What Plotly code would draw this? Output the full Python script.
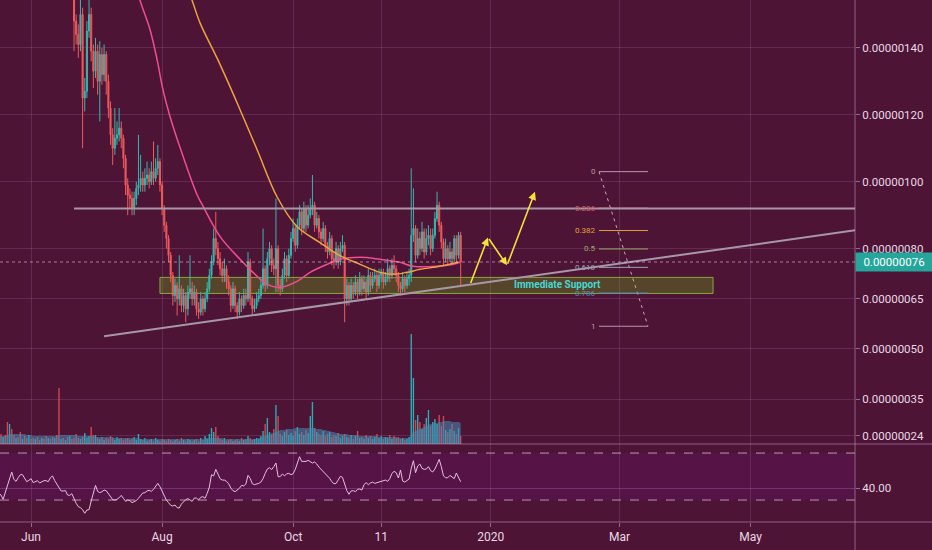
import pandas as pd
import plotly.graph_objects as go

START = "2019-05-17"

# ---- daily candles (price in units of 1e-8) ----
close = [262, 255, 258, 248, 240, 245, 236, 230, 238, 226, 220, 224, 215, 210, 218, 205, 200, 206, 198, 192,
         196, 188, 184, 190, 180, 176, 182, 172, 168, 175, 166, 170, 162, 165, 160,
         148, 144, 141, 150, 125, 127, 145, 150, 139, 133,
         139, 130, 138, 132, 138, 130, 122, 114, 110, 113,
         114, 116, 113, 107, 99, 96, 95, 92, 95, 98,
         99, 101, 99, 101, 102, 100, 103, 101, 104, 106,
         99, 92, 87, 83, 78, 72, 66, 69, 65, 68,
         63, 66, 62, 67, 68, 65, 67, 62, 61, 65,
         62, 65, 68, 72, 76, 83, 80, 77, 74, 72,
         74, 70, 68, 63, 68, 63, 61, 65, 63, 66,
         65, 76, 65, 62, 63, 65, 66, 69, 74, 69,
         77, 80, 75, 74, 80, 69, 68, 72, 77, 72,
         78, 83, 86, 81, 87, 91, 86, 92, 87, 90,
         92, 93, 87, 89, 85, 83, 86, 81, 79, 83,
         77, 76, 80, 76, 80, 81, 65, 69, 65, 69,
         67, 70, 67, 71, 68, 70, 67, 72, 69, 71,
         72, 69, 72, 73, 70, 71, 74, 72, 75, 74,
         72, 69, 68, 71, 69, 71, 72, 84, 86, 78,
         83, 80, 85, 79, 83, 84, 80, 84, 89, 93,
         87, 82, 77, 80, 77, 79, 77, 83, 78, 84, 76]

open_ = [268, 262, 255, 258, 248, 240, 245, 236, 230, 238, 226, 220, 224, 215, 210, 218, 205, 200, 206, 198,
         192, 196, 188, 184, 190, 180, 176, 182, 172, 168, 175, 166, 170, 162, 165,
         160, 148, 144, 141, 150, 125, 127, 145, 150, 139,
         133, 139, 130, 138, 132, 138, 130, 122, 114, 110,
         113, 114, 116, 113, 107, 99, 96, 95, 92, 95,
         98, 99, 101, 99, 101, 102, 100, 103, 101, 104,
         106, 99, 92, 87, 83, 78, 72, 66, 69, 65,
         68, 63, 66, 62, 67, 68, 65, 67, 62, 61,
         65, 62, 65, 68, 72, 76, 83, 80, 77, 74,
         72, 74, 70, 68, 63, 68, 63, 61, 65, 63,
         66, 65, 76, 65, 62, 63, 65, 66, 69, 74,
         69, 77, 80, 75, 74, 80, 69, 68, 72, 77,
         72, 78, 83, 86, 81, 87, 91, 86, 92, 87,
         90, 92, 93, 87, 89, 85, 83, 86, 81, 79,
         83, 77, 76, 80, 76, 80, 81, 65, 69, 65,
         69, 67, 70, 67, 71, 68, 70, 67, 72, 69,
         71, 72, 69, 72, 73, 70, 71, 74, 72, 75,
         74, 72, 69, 68, 71, 69, 71, 72, 84, 86,
         78, 83, 80, 85, 79, 83, 84, 80, 84, 89,
         93, 87, 82, 77, 80, 77, 79, 77, 83, 78, 84]

high = [272, 266, 263, 260, 251, 249, 247, 239, 242, 240, 229, 228, 226, 218, 222, 220, 208, 210, 208, 201,
        200, 198, 191, 194, 192, 183, 186, 184, 175, 179, 177, 174, 172, 168, 167,
        163, 150, 147, 156, 152, 131, 148, 158, 152, 141,
        143, 141, 142, 140, 141, 139, 132, 124, 116, 122,
        118, 122, 118, 114, 108, 101, 98, 97, 97, 100,
        114, 108, 103, 104, 106, 104, 106, 112, 107, 111,
        107, 100, 93, 88, 84, 79, 73, 71, 70, 78,
        69, 68, 67, 69, 78, 70, 69, 68, 64, 67,
        66, 67, 70, 74, 78, 86, 91, 82, 79, 76,
        77, 75, 72, 69, 70, 69, 64, 67, 66, 68,
        68, 79, 77, 66, 65, 67, 68, 71, 86, 75,
        79, 82, 81, 77, 95, 81, 71, 74, 79, 78,
        80, 85, 89, 87, 89, 93, 92, 94, 93, 93,
        95, 102, 94, 91, 90, 86, 88, 87, 82, 85,
        84, 79, 82, 81, 82, 84, 82, 71, 70, 71,
        70, 72, 71, 73, 72, 72, 71, 74, 73, 73,
        74, 73, 74, 74, 74, 73, 77, 75, 77, 78,
        75, 73, 70, 73, 72, 73, 74, 104, 98, 87,
        86, 85, 88, 86, 86, 87, 86, 86, 91, 97,
        94, 88, 83, 83, 81, 82, 80, 84, 84, 85, 85]

low = [258, 251, 252, 244, 236, 237, 232, 226, 228, 222, 216, 217, 211, 206, 207, 201, 196, 197, 194, 188,
       189, 185, 180, 181, 177, 172, 173, 169, 165, 166, 163, 163, 159, 159, 157,
       139, 141, 137, 139, 110, 121, 125, 143, 136, 128,
       131, 126, 118, 129, 130, 126, 119, 111, 105, 108,
       111, 112, 110, 104, 96, 90, 92, 90, 90, 93,
       96, 97, 97, 97, 99, 98, 99, 99, 100, 102,
       97, 90, 85, 80, 76, 70, 63, 64, 60, 63,
       61, 61, 58, 60, 65, 63, 63, 60, 59, 60,
       60, 61, 64, 67, 71, 75, 78, 75, 72, 70,
       70, 68, 66, 61, 62, 61, 59, 60, 61, 62,
       63, 64, 63, 60, 61, 62, 64, 65, 68, 67,
       68, 75, 73, 72, 67, 67, 66, 67, 71, 70,
       71, 77, 82, 79, 80, 86, 84, 85, 85, 86,
       89, 90, 85, 86, 83, 81, 82, 79, 77, 78,
       75, 74, 75, 74, 75, 79, 58, 63, 63, 64,
       65, 66, 65, 66, 66, 67, 65, 66, 67, 68,
       70, 67, 68, 70, 68, 69, 70, 70, 71, 72,
       70, 67, 66, 67, 67, 68, 69, 70, 82, 76,
       77, 78, 79, 77, 78, 81, 78, 79, 83, 88,
       85, 80, 75, 76, 75, 76, 75, 76, 76, 77, 69]

volume = [8, 10, 7, 9, 22, 20, 15, 9, 6, 7,
          12, 5, 8, 6, 9, 5, 6, 5, 7, 4,
          6, 5, 8, 6, 5, 7, 6, 9, 56, 5,
          6, 4, 7, 8, 5, 6, 10, 6, 5, 7,
          11, 6, 8, 17, 9, 9, 6, 5, 7, 4,
          6, 5, 8, 6, 4, 7, 5, 6, 4, 5,
          6, 4, 5, 7, 4, 10, 5, 4, 6, 3,
          4, 5, 3, 6, 4, 3, 5, 4, 3, 5,
          4, 3, 4, 5, 3, 6, 4, 3, 5, 4,
          3, 4, 5, 3, 6, 4, 8, 5, 10, 16,
          12, 17, 8, 5, 4, 6, 3, 4, 5, 3,
          4, 5, 3, 6, 4, 5, 8, 6, 4, 5,
          6, 5, 8, 13, 20, 26, 12, 9, 15, 39,
          28, 10, 8, 12, 14, 9, 11, 8, 13, 17,
          10, 12, 9, 14, 11, 28, 42, 16, 12, 10,
          9, 13, 8, 10, 12, 7, 9, 8, 11, 6,
          8, 10, 7, 6, 9, 5, 8, 13, 6, 7,
          5, 9, 6, 8, 5, 7, 10, 6, 8, 5,
          7, 6, 9, 5, 8, 6, 7, 5, 6, 4,
          5, 7, 110, 66, 24, 29, 22, 15, 20, 26,
          34, 18, 22, 25, 20, 29, 18, 28, 14, 12,
          15, 20, 13, 10, 16, 8]

volume_ma = [8, 8, 8, 8, 9, 10, 10, 10, 10, 10, 10, 10, 10, 9, 9, 9, 8, 8, 8, 8,
             8, 8, 8, 8, 8, 8, 8, 8, 9, 9, 9, 9, 9, 9, 9, 9, 9, 8, 8, 8,
             8, 8, 8, 8, 8,
             7, 7, 7, 7, 7, 7, 7, 7, 7, 6, 6, 6, 6, 6, 6, 6, 6, 6, 6, 6,
             6, 5, 5, 5, 5, 5, 5, 5, 5, 5, 5, 5, 5, 5, 5, 5, 5, 5, 5, 5,
             5, 5, 5, 5, 5, 5, 5, 5, 5, 5, 5, 6, 6, 6, 6, 6, 6, 6, 6, 6,
             5, 5, 5, 5, 5, 5, 5, 5, 5, 5, 5, 5, 5, 5, 5, 5,
             6, 6, 7, 8, 9, 10, 11, 11, 12, 13, 14, 14, 14, 15, 15, 15, 15, 16, 16, 16,
             16, 16, 16, 16, 16, 16, 16, 15, 15, 15,
             14, 14, 13, 13, 12, 12, 11, 11, 10, 10, 10, 10, 9, 9, 9, 9, 9, 8, 8, 8,
             8, 8, 8, 8, 8, 8, 7, 7, 7, 7, 7, 7, 7, 7, 7, 6, 6, 6, 6, 6, 6,
             10, 12, 13, 14, 15, 16, 17, 18, 19, 20, 20, 21, 21, 22, 22, 23, 23, 23, 23, 22,
             22, 22, 22, 21]

rsi = [35.7, 34.3, 30.6, 36.3, 43.1, 48.8, 53.9, 47.6, 45.9, 49.0,
       51.6, 51.6, 48.5, 45.6, 46.8, 48.2, 44.8, 45.6, 46.5, 44.5,
       45.4, 46.5, 46.5, 45.6, 49.0, 50.5, 46.5, 43.4, 40.5, 37.7,
       37.7, 38.0, 34.3, 34.0, 35.4, 30.9, 27.2, 24.4, 23.5, 21.8,
       18.7, 21.5, 21.8, 29.2, 37.1, 42.5, 37.4, 36.3, 37.1, 38.5,
       38.0, 35.7, 32.6, 30.3, 30.0, 30.6, 32.0, 34.0, 31.5, 28.9,
       30.0, 29.5, 27.8, 28.9, 29.5, 31.5, 34.3, 36.0, 36.3, 37.7,
       38.3, 37.4, 39.1, 41.9, 44.2, 41.4, 37.4, 33.1, 30.0, 27.8,
       25.5, 24.9, 25.8, 23.5, 23.2, 26.6, 28.6, 30.3, 31.2, 30.0,
       28.9, 31.7, 31.7, 30.0, 32.3, 32.9, 31.5, 35.7, 41.1, 51.6,
       50.5, 56.1, 51.3, 48.2, 47.0, 47.0, 45.9, 43.9, 40.2, 38.0,
       37.1, 38.5, 40.0, 42.5, 42.0, 43.7, 51.0, 48.5, 43.9, 43.1,
       43.4, 44.2, 45.3, 48.2, 52.7, 56.4, 57.5, 55.9, 58.4, 61.5,
       49.9, 49.9, 52.2, 50.5, 52.4, 52.7, 51.6, 52.4, 56.1, 61.2,
       66.9, 62.9, 62.7, 62.9, 63.8, 62.7, 61.5, 62.4, 60.7, 58.1,
       56.1, 54.4, 52.7, 50.7, 48.5, 45.6, 43.9, 44.2, 47.9, 50.2,
       49.3, 42.8, 38.0, 34.9, 37.7, 38.0, 37.1, 39.1, 39.4, 38.5,
       43.1, 44.8, 43.1, 44.5, 45.3, 44.2, 44.8, 45.6, 45.6, 46.2,
       47.0, 45.9, 48.2, 52.7, 54.4, 53.3, 48.8, 55.6, 46.2, 45.3,
       47.0, 47.9, 57.0, 63.5, 53.3, 59.0, 60.7, 57.0, 56.1, 56.4,
       58.4, 55.0, 53.9, 56.4, 60.4, 64.6, 58.4, 50.5, 49.0, 49.0,
       51.0, 49.3, 48.2, 53.0, 49.9, 45.6]

# moving averages (day offset from START, price)
pink_ma_day = [63.4, 65.7, 70.4, 73.7, 76.4, 79.7, 85.8, 92.3, 95.1, 103, 112.3, 118.3, 124.9, 130.9,
               138.8, 144.9, 152.8, 158.8, 168.2, 177.5, 186.8, 192.8, 204, 211.5, 214.7]
pink_ma = [160.3, 154.3, 145.4, 136.4, 127.5, 119.4, 107.5, 96.1, 92.6, 83.6, 76.8, 72.9, 69.3, 68.4,
           70.2, 72.9, 75.3, 76.8, 77.4, 76.8, 75.9, 74.7, 74.7, 75.3, 75.9]
orange_ma_day = [87.1, 89.9, 93.7, 102, 110.9, 120.2, 129.5, 138.8, 149.5, 158.8, 168.2, 177.5, 183.5,
                 190, 196.1, 205.4, 213.8]
orange_ma = [158.8, 154.3, 147.4, 136.4, 123.6, 109.6, 95.5, 86.6, 81.8, 77.9, 75.3, 72.9, 72.3,
             72.9, 73.8, 74.7, 75.9]

# drawings (day offset, price)
resistance_days = [35, 420]
resistance_price = 92.0
trend_days = [49, 399]
trend_prices = [53.8, 85.5]
support_days = [75, 332.5]
support_prices = [66.6, 71.4]
support_label = "Immediate Support"
support_label_pos = (260.3, 69.3)
fib_days = [279.4, 302.2]
fib_levels = ["0", "0.236", "0.382", "0.5", "0.618", "0.786", "1"]
fib_prices = [103.0, 92.1, 85.4, 79.9, 74.4, 66.7, 56.8]
fib_colors = ["#b79aae", "#d85a62", "#e0a040", "#93ae6a", "#9aa3b8", "#4f8fc4", "#b79aae"]
arrow_days = [219.4, 227.7, 236.6, 249.6]
arrow_prices = [69.3, 83.3, 75.0, 97.0]
last_price = 76
last_price_label = "0.00000076"

price_ticks = [24, 35, 50, 65, 80, 100, 120, 140]
price_tick_labels = ["0.00000024", "0.00000035", "0.00000050", "0.00000065",
                     "0.00000080", "0.00000100", "0.00000120", "0.00000140"]
x_ticks = ["2019-06-01", "2019-08-01", "2019-10-01", "2019-11-11", "2020-01-01", "2020-03-01", "2020-05-01"]
x_tick_labels = ["Jun", "Aug", "Oct", "11", "2020", "Mar", "May"]
x_range = ["2019-05-17 13:00", "2020-06-18 14:00"]

start = pd.Timestamp(START)


def day(d):
    return (start + pd.Timedelta(days=float(d))).strftime("%Y-%m-%d %H:%M")


dates = [day(i) for i in range(len(close))]

BG = "#4d1436"
GRID = "rgba(210,170,200,0.16)"
TXT = "#ead9e4"
UP = "#35b8ac"
DOWN = "#ef5a5a"
FONT = "Roboto"
XR = 0.9174  # right edge of the plotting panes (paper)

vol_colors = ["rgba(34,200,200,0.85)" if c >= o else "rgba(235,80,80,0.85)" for o, c in zip(open_, close)]

fig = go.Figure()

fig.add_trace(go.Scatter(x=dates, y=volume_ma, yaxis="y2", mode="lines", line=dict(width=0, shape="spline"),
                         fill="tozeroy", fillcolor="rgba(70,140,180,0.55)"))
fig.add_trace(go.Bar(x=dates, y=volume, yaxis="y2", marker=dict(color=vol_colors, line=dict(width=0))))

fig.add_trace(go.Candlestick(x=dates, open=open_, high=high, low=low, close=close,
                             increasing=dict(line=dict(color=UP, width=1), fillcolor=UP),
                             decreasing=dict(line=dict(color=DOWN, width=1), fillcolor=DOWN),
                             whiskerwidth=0))

fig.add_trace(go.Scatter(x=[day(d) for d in pink_ma_day], y=pink_ma, mode="lines",
                         line=dict(color="#ee4f8e", width=1.5, shape="spline")))
fig.add_trace(go.Scatter(x=[day(d) for d in orange_ma_day], y=orange_ma, mode="lines",
                         line=dict(color="#eda33f", width=1.5, shape="spline")))

# trend line
fig.add_trace(go.Scatter(x=[day(d) for d in trend_days], y=trend_prices, mode="lines",
                         line=dict(color="#a897a6", width=2)))

# fib dashed diagonal
fig.add_trace(go.Scatter(x=[day(fib_days[0]), day(fib_days[1])], y=[fib_prices[0], fib_prices[-1]],
                         mode="lines", line=dict(color="#c6a8bd", width=1, dash="3px,4px")))

fig.add_trace(go.Scatter(x=dates, y=rsi, yaxis="y3", mode="lines",
                         line=dict(color="#e6bfe0", width=1)))

shapes = []
# support box
shapes.append(dict(type="rect", xref="x", yref="y", x0=day(support_days[0]), x1=day(support_days[1]),
                   y0=support_prices[0], y1=support_prices[1], fillcolor="rgba(110,170,20,0.33)",
                   line=dict(color="rgba(140,190,60,0.85)", width=1), layer="below"))
# fib lines
for p, col in zip(fib_prices, fib_colors):
    shapes.append(dict(type="line", xref="x", yref="y", x0=day(fib_days[0]), x1=day(fib_days[1]),
                       y0=p, y1=p, line=dict(color=col, width=1)))
# resistance (drawn over the 0.236 fib line)
shapes.append(dict(type="line", xref="x", yref="y", x0=day(resistance_days[0]), x1=day(resistance_days[1]),
                   y0=resistance_price, y1=resistance_price, line=dict(color="#a897a6", width=2)))
# last price dotted
shapes.append(dict(type="line", xref="paper", yref="y", x0=0, x1=XR, y0=last_price, y1=last_price,
                   line=dict(color="rgba(230,200,225,0.6)", width=1, dash="dot")))
# rsi band
shapes.append(dict(type="rect", xref="paper", yref="y3", x0=0, x1=XR, y0=30, y1=70,
                   fillcolor="rgba(110,20,110,0.27)", line=dict(width=0), layer="below"))
for lvl in (30, 70):
    shapes.append(dict(type="line", xref="paper", yref="y3", x0=0, x1=XR, y0=lvl, y1=lvl,
                       line=dict(color="rgba(225,190,220,0.75)", width=1, dash="dash")))
# pane separators
for yy in (0.1927, 0.0509):
    shapes.append(dict(type="line", xref="paper", yref="paper", x0=0, x1=1, y0=yy, y1=yy,
                       line=dict(color="rgba(200,160,190,0.55)", width=1)))
shapes.append(dict(type="line", xref="paper", yref="paper", x0=XR, x1=XR, y0=0, y1=1,
                   line=dict(color="rgba(200,160,190,0.55)", width=1)))

annotations = []
annotations.append(dict(x=day(support_label_pos[0]), y=support_label_pos[1], xref="x", yref="y",
                        text="<b>" + support_label + "</b>", showarrow=False,
                        font=dict(family=FONT, size=10, color="#45d8d2")))
for lbl, p, col in zip(fib_levels, fib_prices, fib_colors):
    annotations.append(dict(x=day(fib_days[0]), y=p, xref="x", yref="y", text=lbl, showarrow=False,
                            xanchor="right", xshift=-1, font=dict(family=FONT, size=8, color=col)))
for k in range(len(arrow_days) - 1):
    annotations.append(dict(x=day(arrow_days[k + 1]), y=arrow_prices[k + 1], ax=day(arrow_days[k]),
                            ay=arrow_prices[k], xref="x", yref="y", axref="x", ayref="y", text="",
                            showarrow=True, arrowhead=2, arrowsize=1, arrowwidth=1.6, arrowcolor="#f4e23a"))
annotations.append(dict(x=XR, xref="paper", y=last_price, yref="y", text=last_price_label,
                        showarrow=False, xanchor="left", bgcolor="#26a69a", borderpad=2,
                        font=dict(family=FONT, size=11.5, color="#ffffff"), width=72))

fig.update_layout(
    width=932, height=550, margin=dict(l=0, r=0, t=0, b=0),
    paper_bgcolor=BG, plot_bgcolor=BG, showlegend=False, hovermode=False,
    font=dict(family=FONT, color=TXT),
    shapes=shapes, annotations=annotations, bargap=0.35,
    xaxis=dict(domain=[0, XR], anchor="y3", type="date", range=x_range,
               tickvals=x_ticks, ticktext=x_tick_labels, showgrid=True, gridcolor=GRID,
               ticks="outside", ticklen=4, tickcolor="rgba(200,160,190,0.6)",
               tickfont=dict(family=FONT, size=12, color=TXT), zeroline=False, showline=False,
               rangeslider=dict(visible=False), automargin=False),
    yaxis=dict(domain=[0.1927, 1], range=[21.6, 154.3], side="right", anchor="x",
               tickvals=price_ticks, ticktext=price_tick_labels, showgrid=True, gridcolor=GRID,
               ticks="outside", ticklen=4, tickcolor="rgba(200,160,190,0.6)",
               tickfont=dict(family=FONT, size=11.5, color=TXT), zeroline=False, automargin=False),
    yaxis2=dict(overlaying="y", range=[0, 444], visible=False, anchor="x"),
    yaxis3=dict(domain=[0.0509, 0.1927], range=[11.3, 77.7], side="right", anchor="x",
                tickvals=[40], ticktext=["40.00"], showgrid=True, gridcolor="rgba(150,90,170,0.45)",
                ticks="outside", ticklen=4, tickcolor="rgba(200,160,190,0.6)",
                tickfont=dict(family=FONT, size=11.5, color=TXT), zeroline=False, automargin=False),
)

fig.write_html("out.html", config={"displayModeBar": False},
               post_script="document.body.style.margin='0';document.body.style.overflow='hidden';")
